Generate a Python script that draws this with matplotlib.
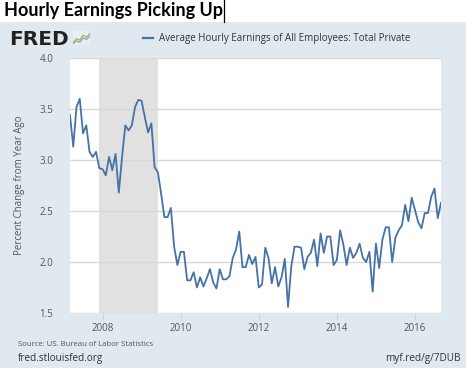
import matplotlib
matplotlib.use("Agg")
import matplotlib.pyplot as plt
from matplotlib.lines import Line2D

# ---------------- data ----------------
start_year, start_month = 2007, 3   # first observation: Mar 2007
values = [
    # 2007 Mar-Dec
    3.44, 3.13, 3.52, 3.60, 3.26, 3.34, 3.08, 3.03, 3.08, 2.92,
    # 2008
    2.91, 2.85, 3.03, 2.90, 3.06, 2.68, 3.03, 3.34, 3.29, 3.34, 3.52, 3.59,
    # 2009
    3.58, 3.42, 3.27, 3.36, 2.93, 2.88, 2.67, 2.44, 2.44, 2.53, 2.15, 1.97,
    # 2010
    2.10, 2.10, 1.82, 1.82, 1.90, 1.75, 1.85, 1.76, 1.84, 1.93, 1.80, 1.74,
    # 2011
    1.93, 1.83, 1.83, 1.86, 2.04, 2.12, 2.30, 1.95, 1.95, 2.07, 1.98, 2.05,
    # 2012
    1.75, 1.78, 2.14, 2.04, 1.79, 1.95, 1.76, 1.85, 2.03, 1.56, 1.96, 2.15,
    # 2013
    2.15, 2.14, 1.93, 2.05, 2.09, 2.22, 1.96, 2.28, 2.09, 2.25, 2.25, 1.97,
    # 2014
    2.02, 2.31, 2.17, 1.97, 2.14, 2.04, 2.09, 2.18, 2.04, 2.00, 2.10, 1.71,
    # 2015
    2.18, 1.94, 2.22, 2.34, 2.34, 2.00, 2.24, 2.31, 2.36, 2.56, 2.40, 2.63,
    # 2016 Jan-Sep
    2.51, 2.39, 2.33, 2.48, 2.48, 2.64, 2.72, 2.43, 2.58,
]
dates = [start_year + (start_month - 1 + i) / 12.0 for i in range(len(values))]

recession_start = 2007 + 11 / 12.0   # Dec 2007
recession_end = 2009 + 5 / 12.0      # Jun 2009

y_ticks = [1.5, 2.0, 2.5, 3.0, 3.5, 4.0]
y_ticklabels = ["1.5", "2.0", "2.5", "3.0", "3.5", "4.0"]
x_ticks = [2008, 2010, 2012, 2014, 2016]
x_ticklabels = ["2008", "2010", "2012", "2014", "2016"]

title = "Hourly Earnings Picking Up"
series_name = "Average Hourly Earnings of All Employees: Total Private"
y_label = "Percent Change from Year Ago"
source_text = "Source: US. Bureau of Labor Statistics"
site_text = "fred.stlouisfed.org"
link_text = "myf.red/g/7DUB"

# decorative logo icon lines
icon_line1 = [0.15, 0.45, 0.35, 0.7, 0.55, 0.85]
icon_line2 = [0.1, 0.3, 0.2, 0.5, 0.4, 0.65]

# ---------------- figure ----------------
W, H = 466, 368
fig = plt.figure(figsize=(W / 100, H / 100), dpi=100)
fig.patch.set_facecolor("white")

def fx(x):
    return x / W

def fy(y):
    return 1 - y / H

FONT = ["Open Sans", "DejaVu Sans"]
PANEL = "#e1e9f0"
LINE = "#4572a7"

# background panel (an empty axes)
bg = fig.add_axes([0, 0, 1, fy(22)])
bg.set_zorder(-5)
bg.set_facecolor(PANEL)
bg.set_xticks([])
bg.set_yticks([])
for s in bg.spines.values():
    s.set_visible(False)

# title + text cursor
fig.text(fx(4), fy(16), title, family=["Lato", "DejaVu Sans"], fontweight="bold",
         fontsize=13, color="black", va="baseline", ha="left")
fig.add_artist(Line2D([fx(224), fx(224)], [fy(0), fy(22)], transform=fig.transFigure,
                      color="black", lw=0.9))

# FRED logo
fig.text(fx(9), fy(45), "FRED", family=["DejaVu Sans"], fontweight="bold",
         fontsize=14.5, color="#222222", va="baseline", ha="left")
iax = fig.add_axes([fx(73), fy(45), fx(90) - fx(73), fy(31) - fy(45)])
iax.set_zorder(2)
iax.set_facecolor("#e9eef2")
iax.plot([i / 5 for i in range(6)], icon_line1, color="#8fbf5a", lw=0.9)
iax.plot([i / 5 for i in range(6)], icon_line2, color="#8aa3b8", lw=0.9)
iax.set_xlim(0, 1)
iax.set_ylim(0, 1)
iax.set_xticks([])
iax.set_yticks([])
for s in iax.spines.values():
    s.set_visible(False)

# legend
fig.add_artist(Line2D([fx(143), fx(153)], [fy(38), fy(38)], transform=fig.transFigure,
                      color=LINE, lw=1.6))
fig.text(fx(159), fy(38), series_name, family=FONT, fontsize=7.0, color="#333333",
         va="center", ha="left")

# main axes
ax = fig.add_axes([fx(70), fy(313), fx(441) - fx(70), fy(58) - fy(313)])
ax.set_zorder(1)
ax.set_facecolor("white")
ax.axvspan(recession_start, recession_end, color="#e1e1e1", lw=0, zorder=0)
ax.plot(dates, values, color=LINE, lw=1.3, zorder=3, solid_joinstyle="round")

ax.set_xlim(dates[0], dates[-1])
ax.set_ylim(1.5, 4.0)
ax.set_yticks(y_ticks)
ax.set_yticklabels(y_ticklabels)
ax.set_xticks(x_ticks)
ax.set_xticklabels(x_ticklabels)
ax.grid(axis="y", color="#d8d8d8", lw=1.0, zorder=1)
ax.set_axisbelow(True)
for s in ax.spines.values():
    s.set_visible(False)

ax.tick_params(axis="y", length=0, pad=12, labelsize=7, labelcolor="#555555")
ax.tick_params(axis="x", length=5, width=0.8, color="#c8d4e0", pad=2,
               labelsize=7, labelcolor="#555555", direction="out")
for lab in ax.get_xticklabels() + ax.get_yticklabels():
    lab.set_family(FONT)

ax.set_ylabel(y_label, family=FONT, fontsize=7, color="#555555")
ax.yaxis.set_label_coords((25 - 70) / (441 - 70), 0.5)

# footer
fig.text(fx(18), fy(345), source_text, family=FONT, fontsize=5.6, color="#555555",
         va="center", ha="left")
fig.text(fx(18), fy(359), site_text, family=FONT, fontsize=7.2, color="#333333",
         va="center", ha="left")
fig.text(fx(461), fy(359), link_text, family=FONT, fontsize=7.2, color="#333333",
         va="center", ha="right")

fig.savefig("out.png", dpi=100, facecolor="white")
